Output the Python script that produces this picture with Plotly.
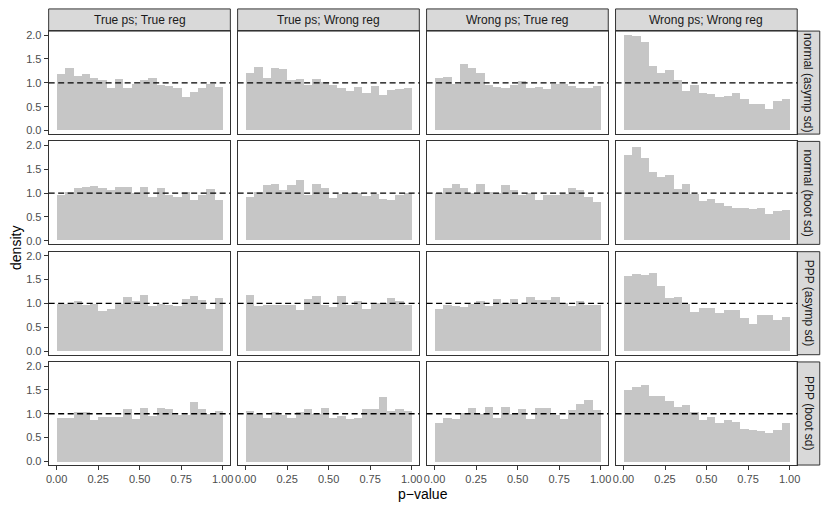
import plotly.graph_objects as go

# ---------------- data ----------------
bin_left = [0.00, 0.05, 0.10, 0.15, 0.20, 0.25, 0.30, 0.35, 0.40, 0.45,
            0.50, 0.55, 0.60, 0.65, 0.70, 0.75, 0.80, 0.85, 0.90, 0.95]
bin_width = 0.05

col_labels = ["True ps; True reg", "True ps; Wrong reg", "Wrong ps; True reg", "Wrong ps; Wrong reg"]
row_labels = ["normal (asymp sd)", "normal (boot sd)", "PPP (asymp sd)", "PPP (boot sd)"]

# normal (asymp sd)
na_TT = [1.19, 1.31, 1.14, 1.19, 1.11, 1.05, 0.88, 1.07, 0.90, 0.98, 1.06, 1.09, 0.95, 0.93, 0.90, 0.70, 0.80, 0.88, 0.98, 0.92]
na_TW = [1.20, 1.33, 1.11, 1.30, 1.29, 1.05, 1.08, 0.95, 1.08, 1.01, 0.96, 0.90, 0.82, 0.91, 0.79, 0.94, 0.75, 0.84, 0.86, 0.89]
na_WT = [1.09, 1.12, 0.98, 1.40, 1.31, 1.21, 0.95, 0.92, 0.89, 0.96, 1.03, 0.89, 0.91, 0.86, 0.98, 0.97, 0.93, 0.89, 0.88, 0.93]
na_WW = [2.00, 1.99, 1.85, 1.35, 1.21, 1.26, 1.05, 0.82, 0.96, 0.79, 0.77, 0.70, 0.72, 0.78, 0.65, 0.56, 0.55, 0.44, 0.61, 0.65]
# normal (boot sd)
nb_TT = [0.95, 1.02, 1.09, 1.12, 1.15, 1.09, 1.06, 1.12, 1.12, 1.00, 1.11, 0.91, 1.09, 0.95, 0.92, 1.01, 0.84, 0.96, 1.08, 0.85]
nb_TW = [0.92, 1.02, 1.16, 1.19, 1.06, 1.16, 1.27, 0.95, 1.19, 1.09, 0.88, 0.98, 0.99, 1.00, 0.93, 0.98, 0.87, 0.85, 0.96, 0.99]
nb_WT = [1.00, 1.10, 1.19, 1.10, 1.00, 1.19, 1.02, 1.00, 1.16, 1.06, 0.95, 0.99, 0.84, 0.96, 0.95, 0.98, 1.10, 1.05, 0.91, 0.81]
nb_WW = [1.80, 1.96, 1.72, 1.44, 1.33, 1.38, 1.07, 1.19, 0.98, 0.82, 0.86, 0.78, 0.72, 0.69, 0.67, 0.65, 0.67, 0.56, 0.61, 0.63]
# PPP (asymp sd)
pa_TT = [1.00, 1.00, 1.05, 0.98, 1.00, 0.84, 0.88, 1.00, 1.14, 1.05, 1.19, 0.96, 1.00, 0.98, 0.96, 1.10, 1.17, 1.07, 0.88, 1.12]
pa_TW = [1.19, 0.95, 0.98, 0.98, 0.97, 0.98, 0.87, 1.09, 1.16, 0.98, 0.93, 1.16, 0.98, 1.05, 0.88, 1.01, 1.01, 1.12, 1.05, 0.98]
pa_WT = [0.88, 0.98, 0.95, 0.94, 1.00, 1.05, 0.96, 1.09, 1.01, 1.09, 1.00, 1.14, 1.08, 1.08, 1.15, 1.01, 0.96, 1.05, 0.98, 0.98]
pa_WW = [1.58, 1.63, 1.60, 1.65, 1.37, 1.12, 1.14, 1.00, 0.82, 0.91, 0.91, 0.80, 0.86, 0.86, 0.70, 0.58, 0.77, 0.77, 0.67, 0.73]
# PPP (boot sd)
pb_TT = [0.91, 0.91, 1.03, 1.03, 0.88, 0.93, 0.94, 0.94, 1.10, 0.90, 1.12, 0.96, 1.12, 1.11, 0.98, 0.98, 1.25, 1.10, 0.99, 1.06]
pb_TW = [1.06, 0.99, 0.92, 1.03, 0.98, 0.91, 1.03, 1.09, 0.99, 1.12, 0.92, 0.96, 0.90, 0.92, 1.10, 1.10, 1.36, 1.05, 1.10, 1.06]
pb_WT = [0.81, 0.92, 0.90, 1.02, 1.12, 1.00, 1.14, 0.92, 1.14, 1.00, 1.09, 0.89, 1.12, 1.13, 0.98, 0.89, 1.08, 1.21, 1.29, 1.07]
pb_WW = [1.50, 1.57, 1.60, 1.37, 1.38, 1.26, 1.15, 1.18, 1.03, 0.86, 0.93, 0.80, 0.86, 0.82, 0.68, 0.66, 0.64, 0.59, 0.66, 0.80]

grid = [[na_TT, na_TW, na_WT, na_WW],
        [nb_TT, nb_TW, nb_WT, nb_WW],
        [pa_TT, pa_TW, pa_WT, pa_WW],
        [pb_TT, pb_TW, pb_WT, pb_WW]]

ref_line = 1.0
x_ticks = [0, 0.25, 0.5, 0.75, 1.0]
x_tick_labels = ["0.00", "0.25", "0.50", "0.75", "1.00"]
y_ticks = [0, 0.5, 1.0, 1.5, 2.0]
y_tick_labels = ["0.0", "0.5", "1.0", "1.5", "2.0"]

# ---------------- layout geometry (pixels) ----------------
W, H = 830, 509
col_px = [(46.0, 229.0), (236.33, 419.33), (426.67, 609.67), (617.0, 800.0)]
row_px = [(29.3, 133.15), (140.5, 244.3), (251.65, 355.5), (362.8, 466.7)]
strip_top = (7.0, 29.3)
strip_right = (800.0, 822.7)

FONT = "Liberation Sans, Arial, sans-serif"
BAR = "#C6C6C6"
FRAME = "#333333"
STRIP_FILL = "#D9D9D9"

def px_x(v):
    return v / W

def px_y(v):
    return 1 - v / H

centers = [b + bin_width / 2 for b in bin_left]

fig = go.Figure()
layout = {}
shapes = []
annotations = []

for r in range(4):
    for c in range(4):
        idx = r * 4 + c + 1
        sfx = "" if idx == 1 else str(idx)
        xa, ya = "x" + sfx, "y" + sfx
        fig.add_trace(go.Bar(
            x=centers, y=grid[r][c], width=bin_width,
            marker=dict(color=BAR, line=dict(width=0)),
            xaxis=xa, yaxis=ya, showlegend=False, hoverinfo="skip"))
        x0, x1 = col_px[c]
        y0, y1 = row_px[r]
        layout["xaxis" + sfx] = dict(
            domain=[px_x(x0), px_x(x1)], range=[-0.048, 1.046], anchor=ya,
            showline=True, mirror=True, linecolor=FRAME, linewidth=1,
            showgrid=False, zeroline=False,
            ticks="outside" if r == 3 else "", ticklen=4, tickwidth=1, tickcolor=FRAME,
            tickvals=x_ticks, ticktext=x_tick_labels, showticklabels=(r == 3),
            tickfont=dict(family=FONT, size=11, color="#4D4D4D"), fixedrange=True)
        layout["yaxis" + sfx] = dict(
            domain=[px_y(y1), px_y(y0)], range=[-0.075, 2.085], anchor=xa,
            showline=True, mirror=True, linecolor=FRAME, linewidth=1,
            showgrid=False, zeroline=False,
            ticks="outside" if c == 0 else "", ticklen=4, tickwidth=1, tickcolor=FRAME,
            tickvals=y_ticks, ticktext=y_tick_labels, showticklabels=(c == 0),
            tickfont=dict(family=FONT, size=11, color="#4D4D4D"), fixedrange=True)
        shapes.append(dict(type="line", xref=xa + " domain", yref=ya,
                           x0=0, x1=1, y0=ref_line, y1=ref_line,
                           line=dict(color="black", width=1.3, dash="6px,3.5px")))

# top strips
for c in range(4):
    x0, x1 = col_px[c]
    shapes.append(dict(type="rect", xref="paper", yref="paper",
                       x0=px_x(x0), x1=px_x(x1), y0=px_y(strip_top[1]), y1=px_y(strip_top[0]),
                       fillcolor=STRIP_FILL, line=dict(color=FRAME, width=1), layer="below"))
    annotations.append(dict(text=col_labels[c], xref="paper", yref="paper",
                            x=px_x((x0 + x1) / 2), y=px_y((strip_top[0] + strip_top[1]) / 2),
                            showarrow=False, xanchor="center", yanchor="middle",
                            font=dict(family=FONT, size=12, color="#1A1A1A")))
# right strips
for r in range(4):
    y0, y1 = row_px[r]
    shapes.append(dict(type="rect", xref="paper", yref="paper",
                       x0=px_x(strip_right[0]), x1=px_x(strip_right[1]), y0=px_y(y1), y1=px_y(y0),
                       fillcolor=STRIP_FILL, line=dict(color=FRAME, width=1), layer="below"))
    annotations.append(dict(text=row_labels[r], xref="paper", yref="paper",
                            x=px_x((strip_right[0] + strip_right[1]) / 2), y=px_y((y0 + y1) / 2),
                            showarrow=False, xanchor="center", yanchor="middle", textangle=90,
                            font=dict(family=FONT, size=12, color="#1A1A1A")))

# axis titles
annotations.append(dict(text="p−value", xref="paper", yref="paper",
                        x=px_x((col_px[0][0] + col_px[3][1]) / 2), y=px_y(495.5),
                        showarrow=False, xanchor="center", yanchor="middle",
                        font=dict(family=FONT, size=14, color="black")))
annotations.append(dict(text="density", xref="paper", yref="paper",
                        x=px_x(13), y=px_y((row_px[0][0] + row_px[3][1]) / 2),
                        showarrow=False, xanchor="center", yanchor="middle", textangle=-90,
                        font=dict(family=FONT, size=14, color="black")))

fig.update_layout(
    width=W, height=H, margin=dict(l=0, r=0, t=0, b=0),
    paper_bgcolor="white", plot_bgcolor="white",
    bargap=0, barmode="overlay",
    shapes=shapes, annotations=annotations, **layout)

fig.write_html("out.html", config={"displayModeBar": False},
               post_script="document.body.style.margin='0';document.body.style.overflow='hidden';")
